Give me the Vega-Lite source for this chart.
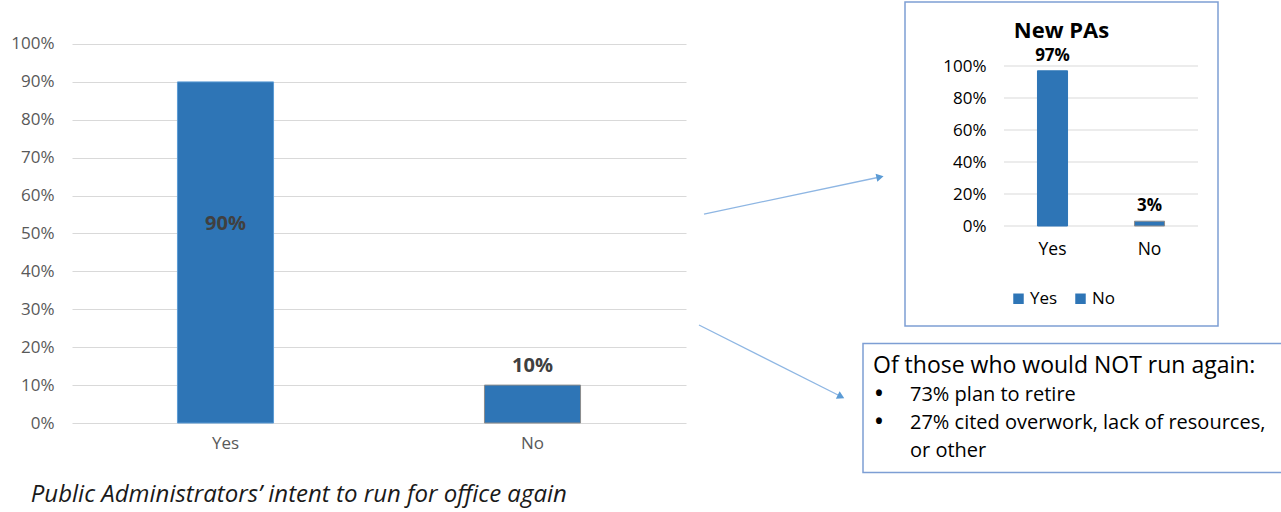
{
  "$schema": "https://vega.github.io/schema/vega-lite/v6.json",
  "padding": {"left": 10, "top": 1, "right": 0, "bottom": 4},
  "background": "white",
  "config": {"font": "Open Sans", "view": {"stroke": null}},
  "bounds": "flush",
  "spacing": 0,
  "resolve": {"scale": {"color": "independent"}},
  "hconcat": [
    {
      "width": 614,
      "height": 421,
      "data": {"values": [{"answer": "Yes", "value": 0.9}, {"answer": "No", "value": 0.1}]},
      "title": {"text": "Public Administrators’ intent to run for office again", "orient": "bottom", "anchor": "start", "frame": "bounds", "fontSize": 24, "fontStyle": "italic", "fontWeight": "normal", "color": "#1a1a1a", "offset": 32, "dx": 20},
      "encoding": {
        "x": {"field": "answer", "type": "nominal", "sort": ["Yes", "No"], "scale": {"paddingInner": 0, "paddingOuter": 0},
              "axis": {"title": null, "labelAngle": 0, "domain": false, "ticks": false, "tickSize": 0, "labelPadding": 12, "labelFontSize": 17, "labelColor": "#595959", "grid": false}}
      },
      "layer": [
        {
          "mark": {"type": "bar", "width": {"band": 0.313}, "color": "#2E75B6", "strokeWidth": 1},
          "encoding": {
            "y": {"field": "value", "type": "quantitative", "scale": {"domain": [0, 1.1108], "nice": false},
                  "axis": {"title": null, "values": [0, 0.1, 0.2, 0.3, 0.4, 0.5, 0.6, 0.7, 0.8, 0.9, 1], "format": ".0%", "domain": false, "ticks": false, "tickSize": 0, "labelPadding": 18, "labelFontSize": 17, "labelColor": "#595959", "grid": true, "gridColor": "#d9d9d9", "gridWidth": 1}},
            "stroke": {"condition": {"test": "datum.answer === 'No'", "value": "#8c8c8c"}, "value": "#5B9BD5"}
          }
        },
        {
          "transform": [{"filter": "datum.answer === 'Yes'"}],
          "mark": {"type": "text", "fontWeight": "bold", "fontSize": 20, "color": "#404040", "baseline": "middle", "dy": 142},
          "encoding": {"y": {"field": "value", "type": "quantitative"}, "text": {"field": "value", "type": "quantitative", "format": ".0%"}}
        },
        {
          "transform": [{"filter": "datum.answer === 'No'"}],
          "mark": {"type": "text", "fontWeight": "bold", "fontSize": 20, "color": "#404040", "baseline": "middle", "dy": -19},
          "encoding": {"y": {"field": "value", "type": "quantitative"}, "text": {"field": "value", "type": "quantitative", "format": ".0%"}}
        }
      ]
    },
    {
      "width": 177,
      "height": 421,
      "data": {"values": [
        {"arrow": "to inset", "x": 0.1017, "y": 0.4964, "xEnd": 1.096, "yEnd": 0.5843, "angle": 348},
        {"arrow": "to box", "x": 0.0734, "y": 0.2328, "xEnd": 0.8757, "yEnd": 0.0629, "angle": 26.7}
      ]},
      "layer": [
        {
          "mark": {"type": "rule", "color": "#8EB6E3", "strokeWidth": 1.3},
          "encoding": {
            "x": {"field": "x", "type": "quantitative", "scale": {"domain": [0, 1], "nice": false, "zero": false}, "axis": null},
            "y": {"field": "y", "type": "quantitative", "scale": {"domain": [0, 1], "nice": false, "zero": false}, "axis": null},
            "x2": {"field": "xEnd"},
            "y2": {"field": "yEnd"}
          }
        },
        {
          "mark": {"type": "point", "shape": "triangle-right", "filled": true, "color": "#5B9BD5", "opacity": 1, "size": 70},
          "encoding": {
            "x": {"field": "xEnd", "type": "quantitative", "axis": null},
            "y": {"field": "yEnd", "type": "quantitative", "axis": null},
            "angle": {"field": "angle", "type": "quantitative", "scale": null}
          }
        }
      ]
    },
    {
      "bounds": "full",
      "spacing": 15.5,
      "resolve": {"scale": {"color": "independent"}},
      "vconcat": [
        {
          "bounds": "flush",
          "spacing": 0,
          "resolve": {"scale": {"color": "independent"}},
          "hconcat": [
            {"width": 42, "height": 324, "view": {"fill": "transparent", "stroke": null}, "data": {"values": []}, "mark": "point"},
            {
              "width": 313,
              "height": 324,
              "view": {"stroke": "#7D9ED4", "strokeWidth": 1.5},
              "title": {"text": "New PAs", "fontSize": 22, "fontWeight": "bold", "color": "#000000", "anchor": "middle", "baseline": "alphabetic", "offset": -58},
              "data": {"values": [{"answer": "Yes", "value": 0.97}, {"answer": "No", "value": 0.03}]},
              "encoding": {
                "x": {"field": "answer", "type": "nominal", "sort": ["Yes", "No"], "scale": {"paddingInner": 0, "paddingOuter": 0.6134, "align": 0.832},
                      "axis": {"title": null, "labelAngle": 0, "domain": false, "ticks": false, "tickSize": 0, "offset": -100, "labelPadding": 14, "labelFontSize": 17.5, "labelColor": "#000000", "grid": false}}
              },
              "layer": [
                {
                  "data": {"values": [
                    {"answer": "Yes", "tick": 0}, {"answer": "Yes", "tick": 0.2}, {"answer": "Yes", "tick": 0.4}, {"answer": "Yes", "tick": 0.6}, {"answer": "Yes", "tick": 0.8}, {"answer": "Yes", "tick": 1},
                    {"answer": "No", "tick": 0}, {"answer": "No", "tick": 0.2}, {"answer": "No", "tick": 0.4}, {"answer": "No", "tick": 0.6}, {"answer": "No", "tick": 0.8}, {"answer": "No", "tick": 1}
                  ]},
                  "mark": {"type": "tick", "orient": "horizontal", "size": 97, "thickness": 1, "color": "#d9d9d9", "opacity": 1},
                  "encoding": {
                    "y": {"field": "tick", "type": "quantitative", "scale": {"domain": [-0.625, 1.4], "nice": false, "zero": false},
                          "axis": {"title": null, "values": [0, 0.2, 0.4, 0.6, 0.8, 1], "format": ".0%", "domain": false, "ticks": false, "tickSize": 0, "grid": false, "offset": -81, "labelPadding": 0, "labelFontSize": 17, "labelColor": "#000000"}}
                  }
                },
                {
                  "mark": {"type": "bar", "width": {"band": 0.31}, "strokeWidth": 1},
                  "encoding": {
                    "y": {"field": "value", "type": "quantitative",
                          "axis": {"title": null, "values": [0, 0.2, 0.4, 0.6, 0.8, 1], "format": ".0%", "domain": false, "ticks": false, "tickSize": 0, "grid": false, "offset": -81, "labelPadding": 0, "labelFontSize": 17, "labelColor": "#000000"}},
                    "color": {"field": "answer", "type": "nominal", "sort": ["Yes", "No"], "scale": {"domain": ["Yes", "No"], "range": ["#2E75B6", "#2E75B6"]},
                              "legend": {"title": null, "orient": "none", "legendX": 105, "legendY": 288, "direction": "horizontal", "symbolType": "square", "symbolSize": 110, "labelFontSize": 17, "labelColor": "#000000", "labelOffset": 3, "columnPadding": 14, "padding": 0, "symbolStrokeWidth": 0}},
                    "stroke": {"condition": {"test": "datum.answer === 'No'", "value": "#8c8c8c"}, "value": "#2E75B6"}
                  }
                },
                {
                  "mark": {"type": "text", "fontWeight": "bold", "fontSize": 17, "color": "#000000", "baseline": "alphabetic", "dy": -10},
                  "encoding": {"y": {"field": "value", "type": "quantitative"}, "text": {"field": "value", "type": "quantitative", "format": ".0%"}}
                }
              ]
            }
          ]
        },
        {
          "width": 419,
          "height": 129,
          "view": {"stroke": "#7D9ED4", "strokeWidth": 1.5},
          "data": {"values": [
            {"line": 0, "col": 0, "kind": "header", "text": "Of those who would NOT run again:"},
            {"line": 1, "col": 0, "kind": "bullet", "text": "•"},
            {"line": 1, "col": 1, "kind": "item", "text": "73% plan to retire"},
            {"line": 2, "col": 0, "kind": "bullet", "text": "•"},
            {"line": 2, "col": 1, "kind": "item", "text": "27% cited overwork, lack of resources,"},
            {"line": 3, "col": 1, "kind": "item", "text": "or other"}
          ]},
          "encoding": {
            "x": {"field": "col", "type": "quantitative", "scale": {"domain": [-0.343, 11.629], "nice": false, "zero": false}, "axis": null},
            "y": {"field": "line", "type": "quantitative", "scale": {"domain": [-1.075, 3.548], "reverse": true, "nice": false, "zero": false}, "axis": null},
            "text": {"field": "text"}
          },
          "layer": [
            {
              "transform": [{"filter": "datum.kind === 'header'"}],
              "mark": {"type": "text", "align": "left", "baseline": "alphabetic", "fontSize": 23, "color": "#000000", "dx": -2}
            },
            {
              "transform": [{"filter": "datum.kind === 'bullet'"}],
              "mark": {"type": "text", "align": "left", "baseline": "alphabetic", "fontSize": 21, "fontWeight": "bold", "color": "#000000"}
            },
            {
              "transform": [{"filter": "datum.kind === 'item'"}],
              "mark": {"type": "text", "align": "left", "baseline": "alphabetic", "fontSize": 20, "color": "#000000"}
            }
          ]
        }
      ]
    }
  ]
}
